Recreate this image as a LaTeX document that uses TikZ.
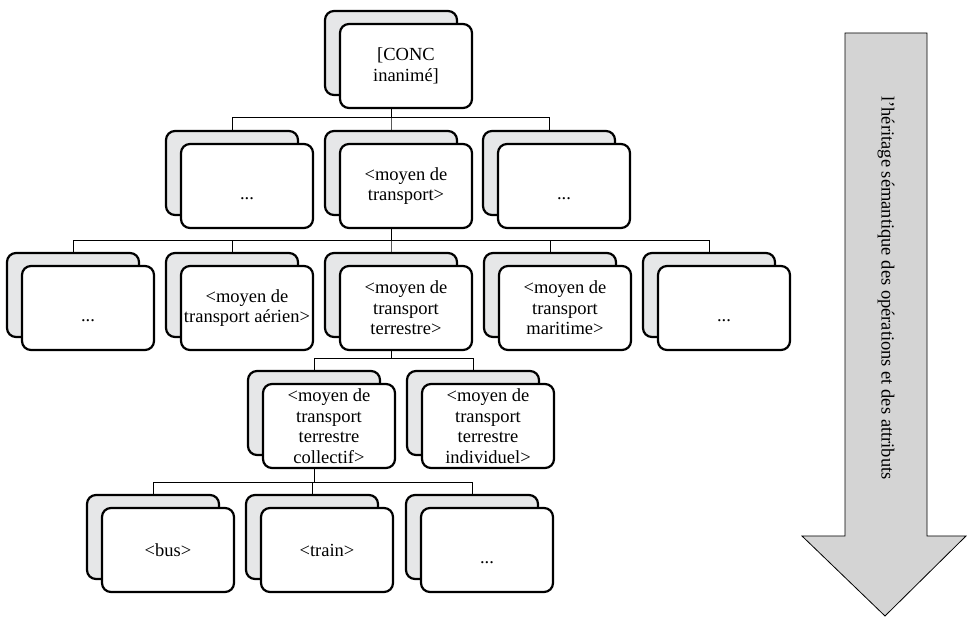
\documentclass[tikz,border=0pt]{standalone}
\usepackage{fontspec}
\setmainfont{Liberation Serif}
\usetikzlibrary{shadows}
\definecolor{backgray}{RGB}{230,231,232}
\definecolor{arrowgray}{RGB}{212,212,212}
\newcommand\boxfont{\fontsize{18.5}{20.5}\selectfont}
\newcommand\suite{\strut\smash{\raisebox{-9pt}{...}}}
\tikzset{
  unit/.style={draw=black,line width=2.2pt,rounded corners=9pt,fill=white,
    minimum width=132pt,minimum height=84pt,inner sep=0pt,align=center,font=\boxfont,
    copy shadow={shadow xshift=-15pt,shadow yshift=13pt,fill=backgray,draw=black,line width=2.2pt}},
  link/.style={draw=black,line width=0.8pt},
}
\begin{document}
\begin{tikzpicture}[x=1pt,y=1pt]
\useasboundingbox (0,0) rectangle (967,618);
% objects at depth 100: the arrow
\path[draw=black,line width=0.8pt,fill=arrowgray] (845,585) -- (927,585) -- (927,82) -- (966,82) -- (885,2) -- (802,82) -- (845,82) -- cycle;
\node[font=\boxfont,rotate=-90] (legend) at (886,330) {l’héritage sémantique des opérations et des attributs};
% objects at depth 50: the boxes
\node[unit] (conc) at (406,552) {[CONC\\inanimé]};
\node[unit] (autre1) at (247,432) {\suite};
\node[unit] (moyen) at (406,432) {<moyen de\\transport>};
\node[unit] (autre2) at (564,432) {\suite};
\node[unit] (autre3) at (88,310) {\suite};
\node[unit] (aerien) at (247,310) {<moyen de\\transport aérien>};
\node[unit] (terrestre) at (406,310) {<moyen de\\transport\\terrestre>};
\node[unit] (maritime) at (565,310) {<moyen de\\transport\\maritime>};
\node[unit] (autre4) at (724,310) {\suite};
\node[unit] (collectif) at (329,192) {<moyen de\\transport\\terrestre\\collectif>};
\node[unit] (individuel) at (488,192) {<moyen de\\transport\\terrestre\\individuel>};
\node[unit] (bus) at (168,68) {<bus>};
\node[unit] (train) at (327,68) {<train>};
\node[unit] (autre5) at (487,68) {\suite};
% objects at depth 0: the links
\draw[link] ([xshift=-15pt,yshift=13pt]autre1.north) -- ++(0,12) -| ([xshift=-15pt]conc.south);
\draw[link] ([xshift=-15pt,yshift=13pt]moyen.north) -- ++(0,12) -| ([xshift=-15pt]conc.south);
\draw[link] ([xshift=-15pt,yshift=13pt]autre2.north) -- ++(0,12) -| ([xshift=-15pt]conc.south);
\draw[link] ([xshift=-15pt,yshift=13pt]autre3.north) -- ++(0,11) -| ([xshift=-15pt]moyen.south);
\draw[link] ([xshift=-15pt,yshift=13pt]aerien.north) -- ++(0,11) -| ([xshift=-15pt]moyen.south);
\draw[link] ([xshift=-15pt,yshift=13pt]terrestre.north) -- ++(0,11) -| ([xshift=-15pt]moyen.south);
\draw[link] ([xshift=-15pt,yshift=13pt]maritime.north) -- ++(0,11) -| ([xshift=-15pt]moyen.south);
\draw[link] ([xshift=-15pt,yshift=13pt]autre4.north) -- ++(0,11) -| ([xshift=-15pt]moyen.south);
\draw[link] ([xshift=-15pt,yshift=13pt]collectif.north) -- ++(0,11) -| ([xshift=-15pt]terrestre.south);
\draw[link] ([xshift=-15pt,yshift=13pt]individuel.north) -- ++(0,11) -| ([xshift=-15pt]terrestre.south);
\draw[link] ([xshift=-15pt,yshift=13pt]bus.north) -- ++(0,11) -| ([xshift=-15pt]collectif.south);
\draw[link] ([xshift=-15pt,yshift=13pt]train.north) -- ++(0,11) -| ([xshift=-15pt]collectif.south);
\draw[link] ([xshift=-15pt,yshift=13pt]autre5.north) -- ++(0,11) -| ([xshift=-15pt]collectif.south);
\end{tikzpicture}
\end{document}
